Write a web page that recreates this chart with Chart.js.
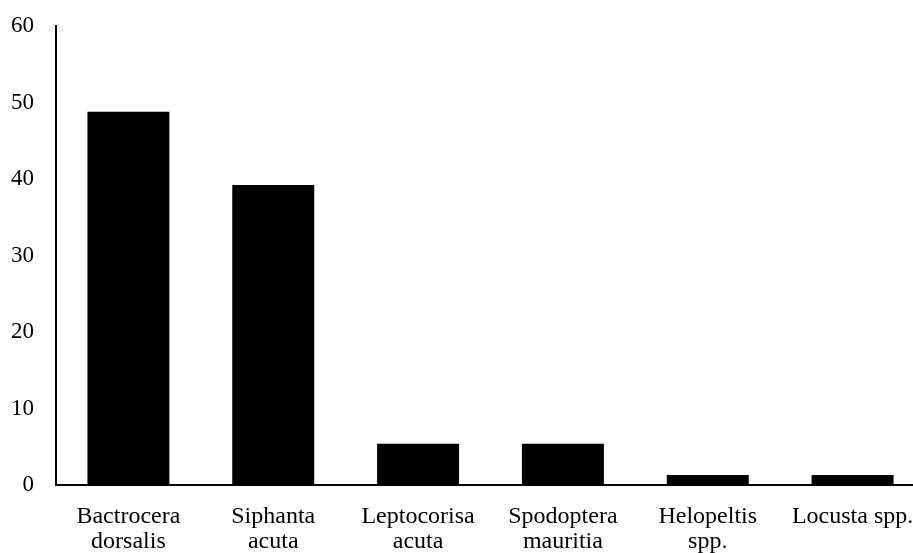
<!DOCTYPE html>
<html>
<head>
<meta charset="utf-8">
<script src="https://cdn.jsdelivr.net/npm/chart.js@4/dist/chart.umd.min.js"></script>
<style>
  html, body { margin: 0; padding: 0; background: #fff; overflow: hidden; }
  #wrap { width: 925px; height: 553px; }
</style>
</head>
<body>
<div id="wrap"><canvas id="pestChart" width="925" height="553"></canvas></div>
<script>
// species (multi-line labels) and their values
const species = [
  ["Bactrocera", "dorsalis"],
  ["Siphanta", "acuta"],
  ["Leptocorisa", "acuta"],
  ["Spodoptera", "mauritia"],
  ["Helopeltis", "spp."],
  ["Locusta spp."],
];
const values = [48.8, 39.2, 5.4, 5.4, 1.3, 1.3];
const yTicks = [0, 10, 20, 30, 40, 50, 60];

const serif = "'Liberation Serif', 'Times New Roman', serif";

document.addEventListener("DOMContentLoaded", () => {
  const ctx = document.getElementById("pestChart").getContext("2d");
  new Chart(ctx, {
    type: "bar",
    data: {
      labels: species,
      datasets: [
        {
          data: values,
          backgroundColor: "#000000",
          borderWidth: 0,
          barPercentage: 0.566,
          categoryPercentage: 1,
        },
      ],
    },
    options: {
      responsive: false,
      animation: false,
      layout: { padding: { top: 26, right: 0, left: 0, bottom: 0 } },
      plugins: {
        legend: { display: false },
        tooltip: { enabled: false },
      },
      scales: {
        x: {
          grid: { display: false, drawTicks: false },
          border: { display: true, color: "#000", width: 2 },
          ticks: {
            color: "#000",
            font: { family: serif, size: 24, lineHeight: 1.05 },
            padding: 19,
            maxRotation: 0,
            autoSkip: false,
          },
          // keep the plot area fixed (the last category runs past the window edge)
          afterFit: (scale) => {
            scale.height = 68;
            scale.paddingLeft = 0;
            scale.paddingRight = 0;
          },
        },
        y: {
          min: 0,
          max: 60,
          afterBuildTicks: (scale) => {
            scale.ticks = yTicks.map((v) => ({ value: v }));
          },
          grid: { display: false, drawTicks: false },
          border: { display: true, color: "#000", width: 2 },
          ticks: {
            color: "#000",
            font: { family: serif, size: 23 },
            padding: 22,
          },
          afterFit: (scale) => {
            scale.width = 56;
            scale.paddingTop = 0;
            scale.paddingBottom = 0;
          },
        },
      },
    },
  });
});
</script>
</body>
</html>
